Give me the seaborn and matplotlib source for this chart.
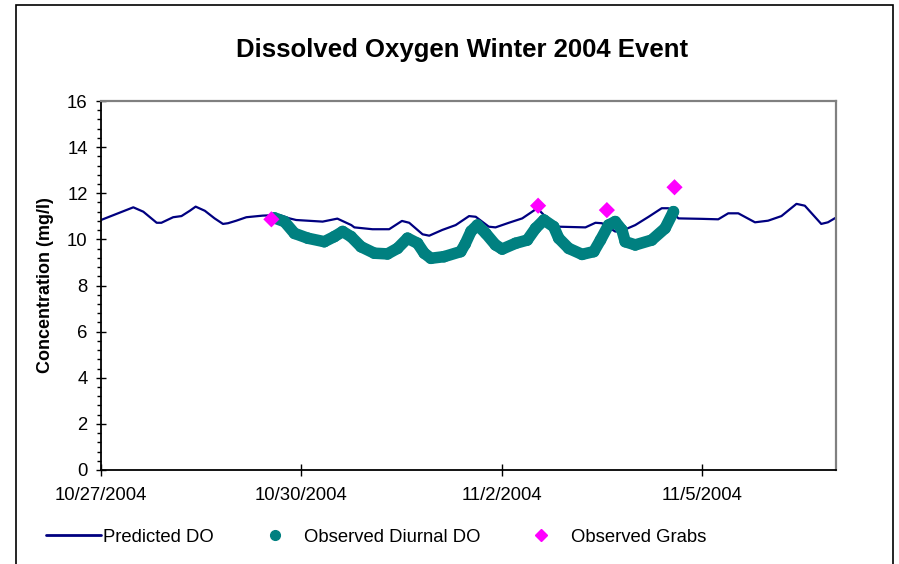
import numpy as np
import pandas as pd
import matplotlib
matplotlib.use("Agg")
import matplotlib.pyplot as plt
from matplotlib.lines import Line2D
from matplotlib.patches import Rectangle
from matplotlib.ticker import MultipleLocator, FixedLocator
import seaborn as sns

# ---- data (hours after 10/27/2004 00:00, DO in mg/l) ----
start = pd.Timestamp("2004-10-27")

pred_hours = [0.0, 11.6, 15.2, 20.0, 21.7, 25.9, 28.9, 31.9, 34.0, 37.3, 40.8,
              43.8, 45.6, 48.6, 52.2, 58.1, 64.1, 67.7, 70.1, 79.6, 84.9,
              89.9, 91.0, 97.5, 103.5, 108.1, 110.7, 115.5, 117.9, 122.6,
              127.4, 132.2, 134.6, 139.3, 141.7, 146.5, 151.3, 156.7, 159.7,
              164.4, 174.0, 177.6, 179.9, 184.7, 187.1, 191.9, 196.7, 201.4,
              203.8, 207.4, 215.8, 221.7, 225.3, 228.9, 234.9, 239.6, 244.4,
              249.8, 252.8, 258.7, 261.1, 264.5]
pred_do = [10.84, 11.39, 11.20, 10.72, 10.72, 10.96, 11.01, 11.24, 11.42, 11.24,
           10.91, 10.67, 10.70, 10.81, 10.96, 11.03, 11.06, 10.91, 10.84, 10.77,
           10.90, 10.62, 10.52, 10.44, 10.44, 10.80, 10.72, 10.22, 10.16, 10.41,
           10.62, 11.01, 10.98, 10.55, 10.52, 10.72, 10.91, 11.35, 10.98, 10.55,
           10.52, 10.72, 10.70, 10.34, 10.37, 10.62, 10.98, 11.35, 11.35, 10.91,
           10.89, 10.87, 11.13, 11.13, 10.74, 10.81, 11.01, 11.54, 11.46, 10.67,
           10.74, 10.98]

obs_hours = [62.3, 65.9, 69.5, 74.3, 80.2, 83.8, 86.8, 89.8, 93.4, 98.2, 102.9,
             106.5, 110.1, 113.7, 116.1, 118.5, 123.2, 129.2, 130.8, 132.9,
             135.2, 138.2, 141.7, 144.1, 148.9, 153.1, 156.1, 159.1, 162.6,
             164.4, 168.0, 172.8, 177.0, 179.4, 182.3, 184.7, 187.1, 188.3,
             191.9, 197.8, 202.6, 205.6]
obs_do = [10.93, 10.77, 10.26, 10.05, 9.90, 10.12, 10.34, 10.12, 9.68, 9.40, 9.37,
          9.61, 10.05, 9.83, 9.40, 9.18, 9.25, 9.47, 9.80, 10.35,
          10.62, 10.26, 9.76, 9.58, 9.83, 9.97, 10.48, 10.84, 10.55,
          10.05, 9.61, 9.35, 9.47, 9.97, 10.62, 10.77, 10.41, 9.90,
          9.76, 9.97, 10.48, 11.20]

grab_hours = [61.2, 157.0, 181.7, 206.0]
grab_do = [10.87, 11.46, 11.27, 12.26]

tick_dates = ["2004-10-27", "2004-10-30", "2004-11-02", "2004-11-05"]
tick_labels = ["10/27/2004", "10/30/2004", "11/2/2004", "11/5/2004"]
x_end = "2004-11-07"

NAVY = "#000080"
TEAL = "#008080"
MAGENTA = "#FF00FF"


def to_time(hours):
    return start + pd.to_timedelta(np.asarray(hours), unit="h")


pred = pd.DataFrame({"time": to_time(pred_hours), "do": pred_do})
obs = pd.DataFrame({"time": to_time(obs_hours), "do": obs_do})
grabs = pd.DataFrame({"time": to_time(grab_hours), "do": grab_do})

sns.set_theme(style="white")
plt.rcParams["font.family"] = ["Liberation Sans", "DejaVu Sans"]
plt.rcParams["text.color"] = "black"
plt.rcParams["axes.labelcolor"] = "black"
plt.rcParams["xtick.color"] = "black"
plt.rcParams["ytick.color"] = "black"

fig = plt.figure(figsize=(8.99, 5.64), dpi=100)
ax = fig.add_axes([101 / 899, 1 - 470 / 564, 735 / 899, 369 / 564])

# predicted series underneath, observed band and grab samples on top
sns.lineplot(data=pred, x="time", y="do", ax=ax, color=NAVY, lw=1.6,
             legend=False, zorder=2)
sns.lineplot(data=obs, x="time", y="do", ax=ax, color=TEAL, lw=8.3,
             solid_capstyle="round", solid_joinstyle="round",
             legend=False, zorder=3)
sns.scatterplot(data=obs, x="time", y="do", ax=ax, color=TEAL, s=70,
                edgecolor="none", legend=False, zorder=4)
sns.scatterplot(data=grabs, x="time", y="do", ax=ax, color=MAGENTA, marker="D",
                s=68, edgecolor="none", legend=False, zorder=5)

ax.set_xlim(start, pd.Timestamp(x_end))
ax.set_ylim(0, 16)
ax.set_yticks(np.arange(0, 17, 2))
ax.yaxis.set_minor_locator(MultipleLocator(0.4))
ax.set_xticks(pd.to_datetime(tick_dates))
ax.set_xticklabels(tick_labels)
ax.xaxis.set_minor_locator(FixedLocator([]))

ax.tick_params(which="both", left=True, bottom=True, colors="black",
               labelcolor="black")
ax.tick_params(axis="y", which="major", direction="inout", length=7.2,
               width=1, labelsize=13.3, pad=6)
ax.tick_params(axis="y", which="minor", direction="out", length=3, width=1)
ax.tick_params(axis="x", which="major", direction="inout", length=8,
               width=1, labelsize=13.3, pad=8)

for side in ("left", "bottom"):
    ax.spines[side].set_color("black")
    ax.spines[side].set_linewidth(1.3)
for side in ("top", "right"):
    ax.spines[side].set_color("#808080")
    ax.spines[side].set_linewidth(1.6)

ax.set_xlabel("")
ax.set_ylabel("Concentration (mg/l)", fontsize=13, fontweight="bold",
              color="black")
ax.yaxis.set_label_coords(-0.064, 0.5)
ax.grid(False)

fig.text(462 / 899, 1 - 50 / 564, "Dissolved Oxygen Winter 2004 Event",
         ha="center", va="center", fontsize=18.5, fontweight="bold",
         color="black")

handles = [
    Line2D([], [], color=NAVY, lw=2),
    Line2D([], [], ls="none", marker="o", color=TEAL, ms=7),
    Line2D([], [], ls="none", marker="D", color=MAGENTA, ms=6.5),
]
fig.legend(handles, ["Predicted DO", "Observed Diurnal DO", "Observed Grabs"],
           loc="center left", bbox_to_anchor=(46 / 899, 1 - 537 / 564),
           ncol=3, frameon=False, fontsize=13.3, handlelength=3.0,
           handletextpad=0.1, columnspacing=1.78, borderpad=0,
           borderaxespad=0, labelcolor="black")

# outer chart frame
fig.patches.append(Rectangle((16 / 899, -0.05), 877 / 899, 1.05 - 5 / 564,
                             transform=fig.transFigure, fill=False,
                             ec="black", lw=1.2))

fig.savefig("out.png", dpi=100)
